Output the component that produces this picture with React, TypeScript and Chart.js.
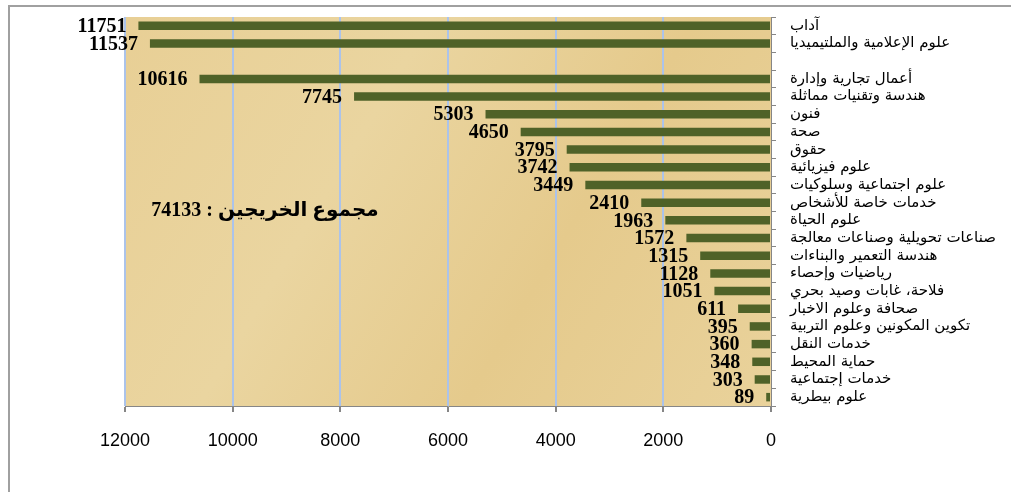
import React, { useEffect, useRef } from "react";
import { Chart, registerables } from "chart.js";

Chart.register(...registerables);

const categories: string[] = [
  "آداب",
  "علوم الإعلامية والملتيميديا",
  "",
  "أعمال تجارية وإدارة",
  "هندسة وتقنيات مماثلة",
  "فنون",
  "صحة",
  "حقوق",
  "علوم فيزيائية",
  "علوم اجتماعية وسلوكيات",
  "خدمات خاصة للأشخاص",
  "علوم الحياة",
  "صناعات تحويلية وصناعات معالجة",
  "هندسة التعمير والبناءات",
  "رياضيات وإحصاء",
  "فلاحة، غابات وصيد بحري",
  "صحافة وعلوم الاخبار",
  "تكوين المكونين وعلوم التربية",
  "خدمات النقل",
  "حماية المحيط",
  "خدمات إجتماعية",
  "علوم بيطرية",
];

const graduates: (number | null)[] = [
  11751, 11537, null, 10616, 7745, 5303, 4650, 3795, 3742, 3449, 2410, 1963,
  1572, 1315, 1128, 1051, 611, 395, 360, 348, 303, 89,
];

const totalLabel = "مجموع الخريجين : 74133";
const xMin = 0;
const xMax = 12000;
const xStep = 2000;

export default function App() {
  const ref = useRef<HTMLCanvasElement | null>(null);

  useEffect(() => {
    if (!ref.current) return;

    const bgPlugin = {
      id: "papyrus",
      beforeDraw(chart: any) {
        const { ctx, chartArea: a } = chart;
        ctx.save();
        const g = ctx.createLinearGradient(a.left, a.top, a.right, a.bottom);
        g.addColorStop(0, "#E8CF95");
        g.addColorStop(0.35, "#EAD5A0");
        g.addColorStop(0.65, "#E5CA8C");
        g.addColorStop(1, "#E9D29B");
        ctx.fillStyle = g;
        ctx.fillRect(a.left, a.top, a.right - a.left, a.bottom - a.top);
        ctx.restore();
      },
    };

    const labelPlugin = {
      id: "valueLabels",
      afterDatasetsDraw(chart: any) {
        const { ctx } = chart;
        const meta = chart.getDatasetMeta(0);
        ctx.save();
        ctx.font = "bold 20px 'Liberation Serif', 'Times New Roman', serif";
        ctx.fillStyle = "#000";
        ctx.textAlign = "right";
        ctx.textBaseline = "middle";
        meta.data.forEach((el: any, i: number) => {
          const v = graduates[i];
          if (v === null || v === undefined) return;
          ctx.fillText(String(v), el.x - 12, el.y + 1);
        });
        const a = chart.chartArea;
        ctx.font = "bold 20px 'Liberation Serif', 'DejaVu Sans', serif";
        ctx.textAlign = "center";
        ctx.direction = "rtl";
        ctx.fillText(totalLabel, a.left + 140, 211);
        ctx.restore();
      },
    };

    const chart = new Chart(ref.current, {
      type: "bar",
      data: {
        labels: categories,
        datasets: [
          {
            data: graduates,
            backgroundColor: "#4F6228",
            barPercentage: 0.48,
            categoryPercentage: 1,
          },
        ],
      },
      options: {
        indexAxis: "y",
        animation: false,
        responsive: false,
        layout: { padding: { left: 125, top: 17, right: 0, bottom: 0 } },
        plugins: {
          legend: { display: false },
          tooltip: { enabled: false },
        },
        scales: {
          x: {
            reverse: true,
            min: xMin,
            max: xMax,
            ticks: {
              stepSize: xStep,
              color: "#000",
              font: { family: "'Liberation Sans', Arial, sans-serif", size: 18 },
              padding: 18,
              callback: (v: any) => String(v),
            },
            grid: {
              color: (c: any) =>
                c.tick && c.tick.value === 0 ? "rgba(0,0,0,0)" : "#ABC3EA",
              lineWidth: 2,
              tickColor: "#868686",
              tickLength: 6,
            },
            border: { display: true, color: "#868686", width: 1 },
            afterFit: (s: any) => {
              s.height = 86;
              s.paddingLeft = 0;
              s.paddingRight = 0;
            },
          },
          y: {
            position: "right",
            ticks: {
              color: "#000",
              font: { family: "'DejaVu Sans', Arial, sans-serif", size: 15 },
              padding: 14,
              autoSkip: false,
            },
            grid: {
              drawOnChartArea: false,
              drawTicks: true,
              tickLength: 5,
              tickColor: "#868686",
              offset: true,
            },
            border: { display: true, color: "#868686", width: 1 },
            afterFit: (s: any) => {
              s.width = 240;
              s.paddingTop = 0;
              s.paddingBottom = 0;
            },
          },
        },
      },
      plugins: [bgPlugin, labelPlugin],
    });

    return () => chart.destroy();
  }, []);

  return (
    <div
      style={{
        position: "fixed",
        left: 0,
        top: 0,
        width: 1011,
        height: 492,
        overflow: "hidden",
        background: "#fff",
      }}
    >
      <div
        style={{
          position: "absolute",
          left: 8,
          top: 5,
          width: 1200,
          height: 700,
          border: "2px solid #A0A0A0",
        }}
      />
      <canvas
        ref={ref}
        width={1011}
        height={492}
        style={{ position: "absolute", left: 0, top: 0 }}
      />
    </div>
  );
}
